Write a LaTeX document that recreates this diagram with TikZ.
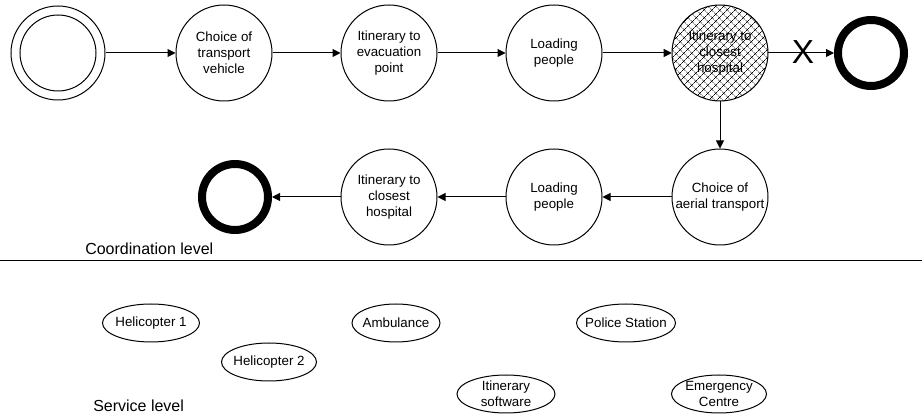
\documentclass[tikz,border=0pt]{standalone}
\usepackage{fontspec}
\setmainfont{Liberation Sans}
\usetikzlibrary{arrows.meta,patterns.meta,shapes.geometric}
\begin{document}
\begin{tikzpicture}[x=0.75pt,y=-0.75pt,
  state/.style={circle,draw,line width=0.75pt,minimum size=72pt,inner sep=0pt,
    label={[align=center,font=\fontsize{10}{12}\selectfont,inner sep=0pt]center:#1}},
  endst/.style={circle,draw,line width=6pt,minimum size=49.5pt,inner sep=0pt},
  startst/.style={circle,draw,line width=0.75pt,minimum size=#1,inner sep=0pt},
  flow/.style={-{Triangle[length=6pt,width=6pt]},line width=0.75pt},
  svc/.style={font=\fontsize{10}{12}\selectfont,align=center,inner sep=0pt},
  svcline/.style={line width=0.75pt},
  lvl/.style={font=\fontsize{12}{14}\selectfont,anchor=base west,inner sep=0pt}]
\useasboundingbox (0,0) rectangle (922,420);
% top row
\node[startst=70.5pt] (start) at (58,53) {};
\node[startst=57pt] (startin) at (start) {};
\node[state={Choice of\\transport\\vehicle}] (c1) at (224,53) {};
\node[state={Itinerary to\\evacuation\\point}] (c2) at (389,53) {};
\node[state={Loading\\people}] (c3) at (554,53) {};
\node[state={Itinerary to\\closest\\hospital},pattern={Hatch[angle=45,distance=4pt,line width=0.4pt]}] (c4) at (720,53) {};
\node[endst] (end1) at (871,53) {};
% second row
\node[state={Choice of\\aerial transport}] (d1) at (720,197) {};
\node[state={Loading\\people}] (d2) at (554,197) {};
\node[state={Itinerary to\\closest\\hospital}] (d3) at (389,197) {};
\node[endst] (end2) at (235,197) {};
% connectors
\draw[flow] (start) -- (c1);
\draw[flow] (c1) -- (c2);
\draw[flow] (c2) -- (c3);
\draw[flow] (c3) -- (c4);
\draw[flow] (c4) -- (end1);
\node[font=\fontsize{25}{25}\selectfont,inner sep=0pt] (xmark) at (803,52) {X};
\draw[flow] (c4) -- (d1);
\draw[flow] (d1) -- (d2);
\draw[flow] (d2) -- (d3);
\draw[flow] (d3) -- (end2);
% level separator
\coordinate (lL) at (0,261);
\coordinate (lR) at (922,261);
\draw[line width=0.75pt] (lL) -- (lR);
\node[lvl] (coord) at (85,255) {Coordination level};
\node[lvl] (serv) at (93,412) {Service level};
% services
\node[svc] (h1) at (151,323) {Helicopter 1};
\draw[svcline] (h1.center) ellipse [x radius=48.5, y radius=19];
\node[svc] (h2) at (269,362) {Helicopter 2};
\draw[svcline] (h2.center) ellipse [x radius=47.5, y radius=19];
\node[svc] (amb) at (396,323) {Ambulance};
\draw[svcline] (amb.center) ellipse [x radius=44, y radius=19];
\node[svc] (pol) at (626,323) {Police Station};
\draw[svcline] (pol.center) ellipse [x radius=49.5, y radius=19];
\node[svc] (its) at (506,394) {Itinerary\\software};
\draw[svcline] (its.center) ellipse [x radius=49, y radius=19];
\node[svc] (emc) at (719,394) {Emergency\\Centre};
\draw[svcline] (emc.center) ellipse [x radius=47.5, y radius=19];
\end{tikzpicture}
\end{document}
